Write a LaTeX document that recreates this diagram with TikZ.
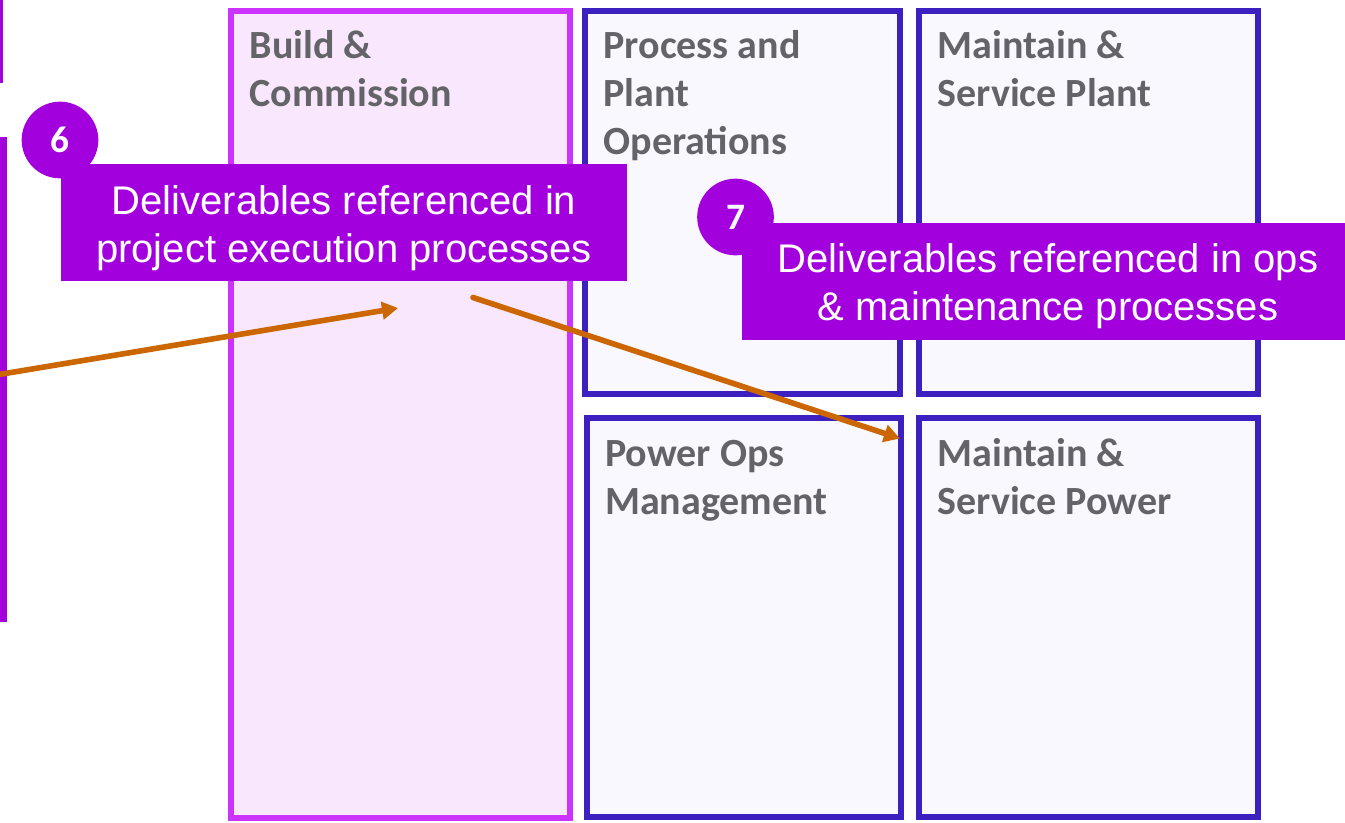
\documentclass[tikz,border=0pt]{standalone}
\usepackage{fontspec}
\setmainfont{Liberation Sans}
\newfontfamily\calibri{Carlito}
\usetikzlibrary{arrows.meta}
\definecolor{buildpurple}{HTML}{CC33FF}
\definecolor{buildfill}{HTML}{F9E7FD}
\definecolor{opsblue}{HTML}{3C21C0}
\definecolor{opsfill}{HTML}{F9F8FF}
\definecolor{calloutpurple}{HTML}{A300DE}
\definecolor{titlegray}{HTML}{646468}
\definecolor{linkorange}{HTML}{CC6600}

\newcommand{\firstline}{\rule{0pt}{30pt}}

\tikzset{
  stagebox/.style={rectangle, draw=buildpurple, fill=buildfill, line width=4.5pt, inner sep=0pt},
  opsbox/.style={rectangle, draw=opsblue, fill=opsfill, line width=4.5pt, inner sep=0pt},
  boxtitle/.style={anchor=base west, inner sep=0pt, align=left, text=titlegray, font=\calibri\bfseries\fontsize{30}{36}\selectfont},
  callout/.style={rectangle, fill=calloutpurple, text=white, inner sep=0pt, align=center, minimum height=87.75pt, font=\fontsize{30}{36}\selectfont},
  badge/.style={circle, fill=calloutpurple, text=white, minimum size=57.5pt, inner sep=0pt, font=\calibri\bfseries\fontsize{28}{30}\selectfont},
  link/.style={draw=linkorange, line width=4.2pt, line cap=round, -{Triangle[length=12pt,width=13pt]}}
}

\begin{document}
\begin{tikzpicture}[x=0.75pt, y=-0.75pt]
  \useasboundingbox (0,0) rectangle (1345,822);

  % boxes cut off at the left edge
  \draw[draw=calloutpurple, line width=4.5pt] (-100,-10) rectangle (0,80);
  \draw[draw=calloutpurple, line width=4.5pt] (-100,140) rectangle (3.5,619);

  % lifecycle stages
  \node[stagebox, minimum width=253.9pt, minimum height=604.9pt] (build) at (400.25,414.25) {};
  \node[opsbox, minimum width=236.6pt, minimum height=287.3pt] (plantops) at (742.75,202.5) {};
  \node[opsbox, minimum width=254.3pt, minimum height=287.3pt] (plantsvc) at (1088.5,202.5) {};
  \node[opsbox, minimum width=235.5pt, minimum height=299.6pt] (powerops) at (743.5,617.75) {};
  \node[opsbox, minimum width=254.3pt, minimum height=299.6pt] (powersvc) at (1088.5,617.75) {};

  % titles sit on the baseline of their last line
  \node[boxtitle] (buildtitle) at ([xshift=16pt, yshift=-74.25pt]build.north west) {Build \&\\Commission};
  \node[boxtitle] (plantopstitle) at ([xshift=16pt, yshift=-110.25pt]plantops.north west) {Process and\\Plant\\Operations};
  \node[boxtitle] (plantsvctitle) at ([xshift=16pt, yshift=-74.25pt]plantsvc.north west) {Maintain \&\\Service Plant};
  \node[boxtitle] (poweropstitle) at ([xshift=16pt, yshift=-74.25pt]powerops.north west) {Power Ops\\Management};
  \node[boxtitle] (powersvctitle) at ([xshift=16pt, yshift=-74.25pt]powersvc.north west) {Maintain \&\\Service Power};

  % links
  \coordinate (fromleft) at (-4,375);
  \coordinate (intobuild) at (398,308);
  \coordinate (frombuild) at (473,297.5);
  \coordinate (intopower) at (900,438.5);
  \draw[link] (fromleft) -- (intobuild);
  \draw[link] (frombuild) -- (intopower);

  % callouts
  \node[badge] (badgesix) at (60,140) {6};
  \node[callout, minimum width=424.5pt] (calloutsix) at (344,222.5) {\firstline Deliverables referenced in\\project execution processes};
  \node[badge] (badgeseven) at (735.5,217) {7};
  \node[callout, minimum width=459pt] (calloutseven) at (1048,281) {\firstline Deliverables referenced in ops\\\& maintenance processes};
\end{tikzpicture}
\end{document}
